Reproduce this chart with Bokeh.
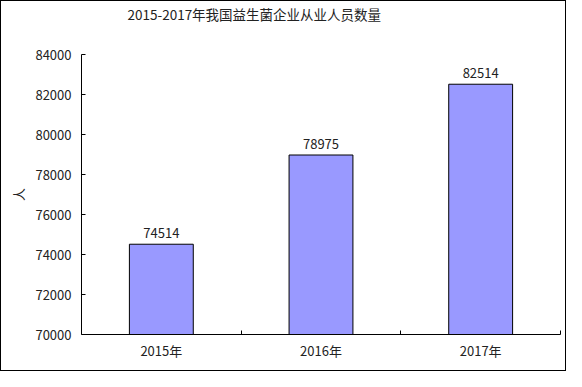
from bokeh.plotting import figure
from bokeh.models import Range1d, FixedTicker, ColumnDataSource, LabelSet, Title
from bokeh.core.properties import value
from bokeh.embed import file_html
from bokeh.resources import INLINE

title_text = "2015-2017年我国益生菌企业从业人员数量"
years = ["2015年", "2016年", "2017年"]
counts = [74514, 78975, 82514]
y_ticks = [70000, 72000, 74000, 76000, 78000, 80000, 82000, 84000]
y_label = "人"

FONT = "Noto Sans CJK SC"
TXT = "#222222"

x_pos = [i + 0.5 for i in range(len(years))]
bounds = [i + 1 for i in range(len(years))]
src = ColumnDataSource(dict(x=x_pos, top=counts, label=[str(v) for v in counts]))

p = figure(width=566, height=371, output_backend="svg", toolbar_location=None,
           x_range=Range1d(0, len(years)), y_range=Range1d(y_ticks[0], y_ticks[-1]),
           min_border_left=80, min_border_right=7, min_border_top=53, min_border_bottom=38,
           title=title_text)
p.styles = {"border": "1px solid #000000", "box-sizing": "border-box"}
p.outline_line_color = None
p.grid.visible = False
p.background_fill_color = "white"
p.border_fill_color = "white"

# invisible spacer between the title and the plot area
p.add_layout(Title(text=" ", text_font_size="24px", standoff=0), "above")

p.vbar(x="x", top="top", bottom=y_ticks[0], width=0.4, source=src,
       fill_color="#9999FF", line_color="black", line_width=1)

labels = LabelSet(x="x", y="top", text="label", source=src, y_offset=6,
                  text_align="center", text_baseline="bottom",
                  text_font=value(FONT), text_font_size="13px", text_color=TXT)
p.add_layout(labels)

p.title.text_font = FONT
p.title.text_font_size = "13.5px"
p.title.text_font_style = "normal"
p.title.text_color = TXT
p.title.align = "left"
p.title.offset = 46
p.title.standoff = 0
p.title.vertical_align = "top"

xa = p.xaxis[0]
xa.ticker = FixedTicker(ticks=x_pos, minor_ticks=bounds)
xa.major_label_overrides = {x: y for x, y in zip(x_pos, years)}
xa.major_tick_line_color = None
xa.major_tick_in = 0
xa.major_tick_out = 0
xa.minor_tick_in = 4
xa.minor_tick_out = 0
xa.minor_tick_line_color = "black"
xa.axis_line_color = "black"
xa.major_label_standoff = 6
xa.major_label_text_font = FONT
xa.major_label_text_font_size = "13px"
xa.major_label_text_color = TXT

ya = p.yaxis[0]
ya.ticker = FixedTicker(ticks=y_ticks)
ya.major_tick_in = 4
ya.major_tick_out = 0
ya.minor_tick_line_color = None
ya.axis_line_color = "black"
ya.major_tick_line_color = "black"
ya.major_label_standoff = 10
ya.major_label_text_font = FONT
ya.major_label_text_font_size = "13px"
ya.major_label_text_color = TXT
ya.axis_label = y_label
ya.axis_label_text_font = FONT
ya.axis_label_text_font_size = "13px"
ya.axis_label_text_font_style = "normal"
ya.axis_label_text_color = TXT
ya.axis_label_standoff = 4

open("out.html", "w").write(file_html(p, INLINE))
